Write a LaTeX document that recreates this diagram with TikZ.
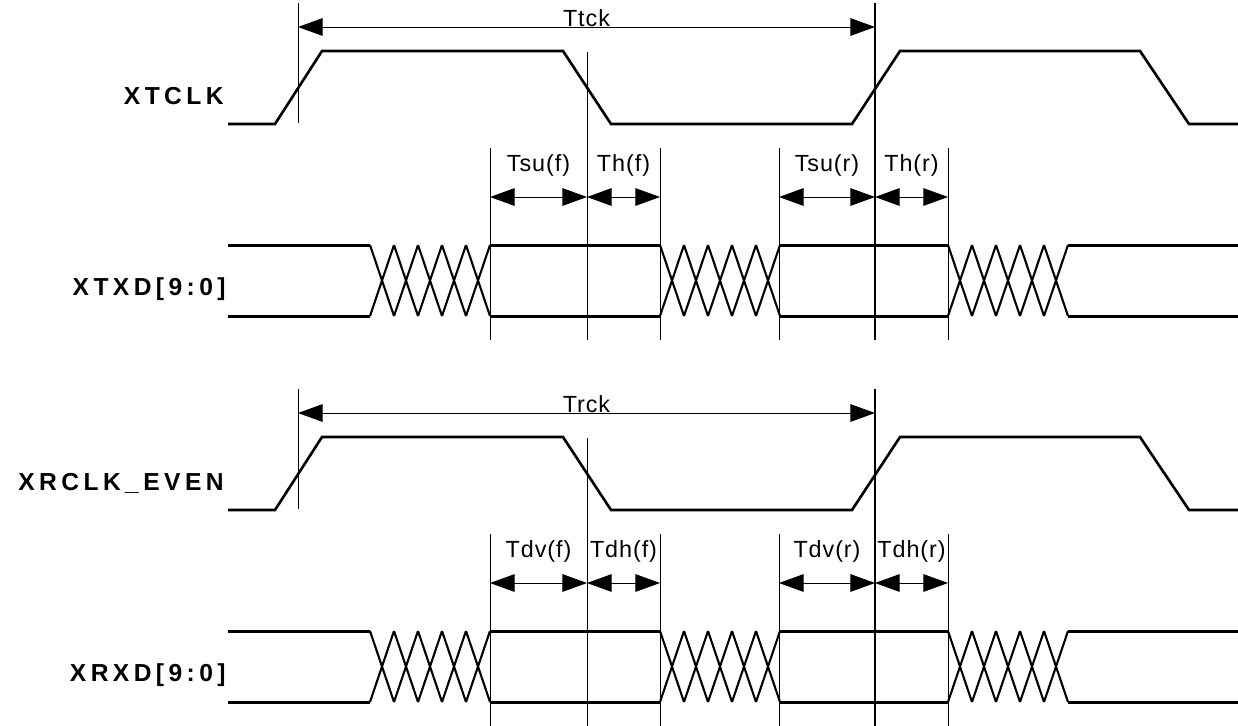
\documentclass[tikz,border=0pt]{standalone}
\usepackage{fontspec}
\setmainfont{Liberation Sans}
\newfontfamily\sigfont{Liberation Sans}[LetterSpace=18]
\newfontfamily\timefont{Liberation Sans}[LetterSpace=4]
\usetikzlibrary{arrows.meta}

\tikzset{
  clkline/.style={line width=1.5pt,line join=miter},
  busline/.style={line width=1.7pt},
  xing/.style={line width=1.2pt},
  guide/.style={line width=0.55pt},
  dim/.style={line width=0.55pt,{Triangle[length=14pt,width=10pt]}-{Triangle[length=14pt,width=10pt]}},
  sig/.style={anchor=base east,inner sep=0pt,font=\sigfont\bfseries\fontsize{14}{16}\selectfont},
  tlab/.style={anchor=base,inner sep=0pt,font=\timefont\fontsize{13.3}{15}\selectfont}
}

% bus crossing, 5 half periods starting at x=#1
\newcommand\buscross[1]{%
  \foreach \k in {0,...,4}{%
    \draw[xing] ({#1+\k*24},245) -- ({#1+(\k+1)*24},316)
                ({#1+\k*24},316) -- ({#1+(\k+1)*24},245);}}

\begin{document}
\begin{tikzpicture}[x=0.02cm,y=-0.02cm]
  \useasboundingbox (0,0) rectangle (1238,725);

  \foreach \i/\off/\clk/\dat/\per/\sa/\ha in
    {1/0/XTCLK/{XTXD[9:0]}/Ttck/Tsu/Th,
     2/386/{XRCLK\_EVEN}/{XRXD[9:0]}/Trck/Tdv/Tdh}{
  \begin{scope}[shift={(0,\off)}]
    % signal names
    \node[sig] (clk\i) at (224,104) {\clk};
    \node[sig] (dat\i) at (226,295) {\dat};

    % clock
    \draw[clkline] (228,124) -- (275,124) -- (322,51) -- (563,51) -- (611,124)
      -- (852,124) -- (900,51) -- (1140,51) -- (1189,124) -- (1238,124);

    % data bus
    \foreach \y in {245,316}{
      \draw[busline] (228,\y) -- (370,\y);
      \draw[busline] (490,\y) -- (660,\y);
      \draw[busline] (779,\y) -- (948,\y);
      \draw[busline] (1068,\y) -- (1238,\y);
    }
    \buscross{370}
    \buscross{660}
    \buscross{948}

    % guide lines
    \draw[guide] (298,3) -- (298,123);
    \draw[guide] (587,52) -- (587,340);
    \draw[guide,line width=0.75pt] (875,3) -- (875,340);
    \foreach \x in {490,660,779,948}
      \draw[guide] (\x,148) -- (\x,340);

    % period
    \draw[dim] (298,27) -- (875,27);
    \node[tlab] (per\i) at (586.5,26) {\per};

    % setup / hold
    \draw[dim] (490,197) -- (587,197);
    \draw[dim] (587,197) -- (660,197);
    \draw[dim] (779,197) -- (875,197);
    \draw[dim] (875,197) -- (948,197);
    \node[tlab] (saf\i) at (538.5,171) {\sa(f)};
    \node[tlab] (haf\i) at (623.5,171) {\ha(f)};
    \node[tlab] (sar\i) at (827,171) {\sa(r)};
    \node[tlab] (har\i) at (911.5,171) {\ha(r)};
  \end{scope}
  }
\end{tikzpicture}
\end{document}
